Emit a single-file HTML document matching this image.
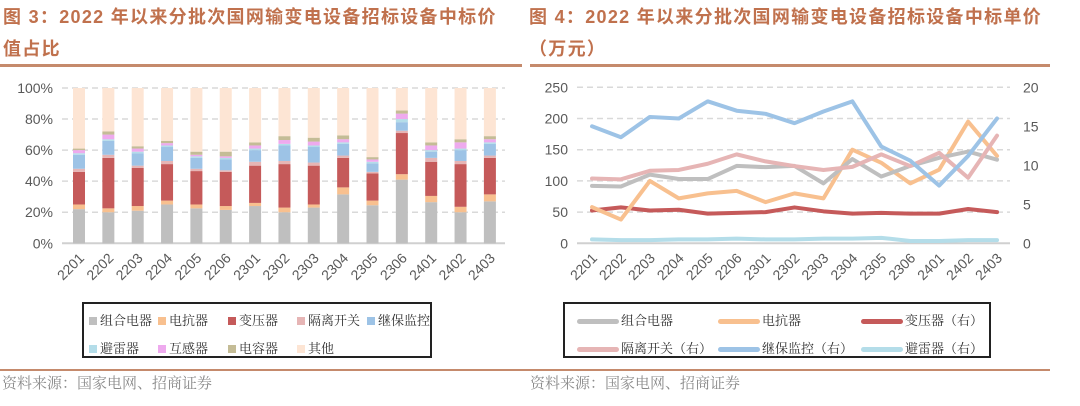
<!DOCTYPE html>
<html><head><meta charset="utf-8"><style>
body{margin:0;width:1080px;height:406px;background:#fff;overflow:hidden;position:relative;font-family:"Liberation Sans","Noto Sans CJK SC",sans-serif}
.t{position:absolute;color:#c0714d;font-weight:bold;font-size:18px;line-height:32px;letter-spacing:1.3px;white-space:nowrap}
.rule{position:absolute;height:3px;background:#c58a6c}
.src{position:absolute;top:372px;font-size:15px;color:#8a8a8a;font-family:"Noto Serif CJK SC",serif}
.lg{position:absolute;border:2px solid #222;box-sizing:border-box;font-family:"Noto Serif CJK SC",serif;font-size:13px;color:#333}
.lg span{position:absolute;white-space:nowrap}
svg{position:absolute;left:0;top:0}
</style></head><body>
<div class="t" style="left:3px;top:1px">图 3：2022 年以来分批次国网输变电设备招标设备中标价<br>值占比</div>
<div class="t" style="left:529px;top:1px">图 4：2022 年以来分批次国网输变电设备招标设备中标单价<br>（万元）</div>
<div class="rule" style="left:0;top:64px;width:522px"></div>
<div class="rule" style="left:530px;top:64px;width:520px"></div>
<div class="rule" style="left:0;top:369px;width:1050px;height:2px"></div>
<div class="src" style="left:2px">资料来源：国家电网、招商证券</div>
<div class="src" style="left:530px">资料来源：国家电网、招商证券</div>
<svg id="chart" width="1080" height="406"></svg>
<div class="lg" id="lgL" style="left:82px;top:302px;width:350px;height:56px"></div>
<div class="lg" id="lgR" style="left:563px;top:302px;width:428px;height:56px"></div>
<script>
const categories=["2201","2202","2203","2204","2205","2206","2301","2302","2303","2304","2305","2306","2401","2402","2403"];
const sGis=[22,20,21,25,22.5,21.5,24,20,23,31.5,24.5,41,26.5,20,27];
const sReactor=[3,2.5,3,2.5,2.5,2.5,2,3,2,4.5,3,3.5,4,3.5,4.5];
const sTransformer=[21,32.5,24.5,23.5,21.5,22,24,28,25,19,17.5,26.5,22,27.5,23.5];
const sSwitch=[2,2,1.5,2,1.5,1,2.5,2,2,1.5,1,1.5,2.5,2,1.5];
const sRelay=[9,9,8,9,7,7,7.5,10,10,7.5,5.5,5.5,4,7,7.5];
const sArrester=[1,1,1,1,1,1,1,1,1,1,1,2,1,1,1];
const sMutual=[2,3,2,1.5,1,1,2,2.5,2.5,2,1.5,3.5,3,4,2];
const sCapacitor=[1,2,1.5,1.5,2,3,2,2.5,2.5,2.5,1.5,2,2,2,2];
const pctTicks=["0%","20%","40%","60%","80%","100%"];
const pGis=[92,91,110,103,103,124,122,124,96,135,107,124,137,147,134];
const pReactor=[58,38,100,72,80,84,66,80,72,150,129,96,118,195,140];
const pTransformer=[4.2,4.6,4.2,4.3,3.8,3.9,4.0,4.6,4.1,3.8,3.9,3.8,3.8,4.4,4.0];
const pSwitch=[8.3,8.2,9.3,9.4,10.2,11.4,10.5,9.9,9.4,9.8,11.4,9.9,11.6,8.4,13.8];
const pRelay=[15.0,13.6,16.2,16.0,18.2,17.0,16.6,15.4,16.9,18.2,12.4,10.6,7.4,11.2,16.0];
const pArrester=[0.5,0.4,0.4,0.5,0.5,0.6,0.5,0.5,0.6,0.6,0.7,0.3,0.3,0.4,0.4];
const leftTicks=[0,50,100,150,200,250];
const rightTicks=[0,5,10,15,20];

const NS="http://www.w3.org/2000/svg";
const svg=document.getElementById('chart');
function mk(tag,attrs,parent){const e=document.createElementNS(NS,tag);for(const k in attrs)e.setAttribute(k,attrs[k]);(parent||svg).appendChild(e);return e;}
const Y0=243.3,Y1=88;
const lx=i=>79+i*29.35, ly=v=>Y0-(v/100)*(Y0-Y1);
pctTicks.forEach((t,i)=>{const y=ly(i*20);
 const g=mk('line',{x1:62,x2:505,y1:y,y2:y,stroke:i?'#d9d9d9':'#d0d0d0','stroke-width':i?1.5:2,'stroke-dasharray':i?'6,4':''});
 
 const tx=mk('text',{x:53,y:y+5,'text-anchor':'end','font-size':14,fill:'#595959'});tx.textContent=t;
 });
const stacks=[[sGis,'#bfbfbf'],[sReactor,'#f8c08f'],[sTransformer,'#c55a5a'],[sSwitch,'#e6b5b5'],[sRelay,'#9dc3e6'],[sArrester,'#b4dde9'],[sMutual,'#eeaaee'],[sCapacitor,'#c4bc96']];
categories.forEach((c,i)=>{let acc=0;
 stacks.forEach(([arr,col])=>{const v=arr[i];const r=mk('rect',{x:lx(i)-6,y:ly(acc+v),width:12,height:ly(acc)-ly(acc+v),fill:col});
  acc+=v;});
 const r=mk('rect',{x:lx(i)-6,y:ly(100),width:12,height:ly(acc)-ly(100),fill:'#fde5d4'});
 
 const t=mk('text',{transform:`translate(${lx(i)+6},${259}) rotate(-45)`,'text-anchor':'end','font-size':14,fill:'#595959'});t.textContent=c;
 });
const rx=i=>592+i*28.93, ryL=v=>Y0-(v/250)*(Y0-87.3), ryR=v=>Y0-(v/20)*(Y0-87.3);
leftTicks.forEach((t,i)=>{const y=ryL(t);
 const g=mk('line',{x1:577,x2:1010,y1:y,y2:y,stroke:i?'#d9d9d9':'#d0d0d0','stroke-width':i?1.5:2,'stroke-dasharray':i?'6,4':''});
 
 const tx=mk('text',{x:568,y:y+5,'text-anchor':'end','font-size':14,fill:'#595959'});tx.textContent=t;
 });
rightTicks.forEach(t=>{const tx=mk('text',{x:1023,y:ryR(t)+5,'font-size':14,fill:'#595959'});tx.textContent=t;
 });
categories.forEach((c,i)=>{const t=mk('text',{transform:`translate(${rx(i)+6},${259}) rotate(-45)`,'text-anchor':'end','font-size':14,fill:'#595959'});t.textContent=c;
 });
const lines=[[pArrester,ryR,'#b4dde9','arrester'],[pTransformer,ryR,'#c55a5a','transformer'],[pReactor,ryL,'#f8c08f','reactor'],[pGis,ryL,'#bfbfbf','gis'],[pSwitch,ryR,'#e6b5b5','switch'],[pRelay,ryR,'#9dc3e6','relay']];
lines.forEach(([arr,fy,col,n])=>{const p=mk('polyline',{points:arr.map((v,i)=>rx(i)+','+fy(v)).join(' '),fill:'none',stroke:col,'stroke-width':4,'stroke-linejoin':'round','stroke-linecap':'round'});
 });
const lgL=document.getElementById('lgL');
[['组合电器','#bfbfbf',5,6],['电抗器','#f8c08f',74,6],['变压器','#c55a5a',144,6],['隔离开关','#e6b5b5',213,6],['继保监控','#9dc3e6',283,6],['避雷器','#b4dde9',5,34],['互感器','#eeaaee',74,34],['电容器','#c4bc96',144,34],['其他','#fde5d4',213,34]].forEach(([n,c,x,y])=>{
 const s=document.createElement('span');s.style.left=x+'px';s.style.top=y+'px';
 s.innerHTML=`<i style="display:inline-block;width:8px;height:8px;background:${c};margin-right:3px"></i>${n}`;
 lgL.appendChild(s);});
const lgR=document.getElementById('lgR');
[['组合电器','#bfbfbf',12,6],['电抗器','#f8c08f',153,6],['变压器（右）','#c55a5a',296,6],['隔离开关（右）','#e6b5b5',12,34],['继保监控（右）','#9dc3e6',153,34],['避雷器（右）','#b4dde9',296,34]].forEach(([n,c,x,y])=>{
 const s=document.createElement('span');s.style.left=x+'px';s.style.top=y+'px';
 s.innerHTML=`<i style="display:inline-block;width:42px;height:5px;border-radius:3px;background:${c};margin-right:2px;vertical-align:middle"></i>${n}`;
 lgR.appendChild(s);});
</script>
</body></html>
